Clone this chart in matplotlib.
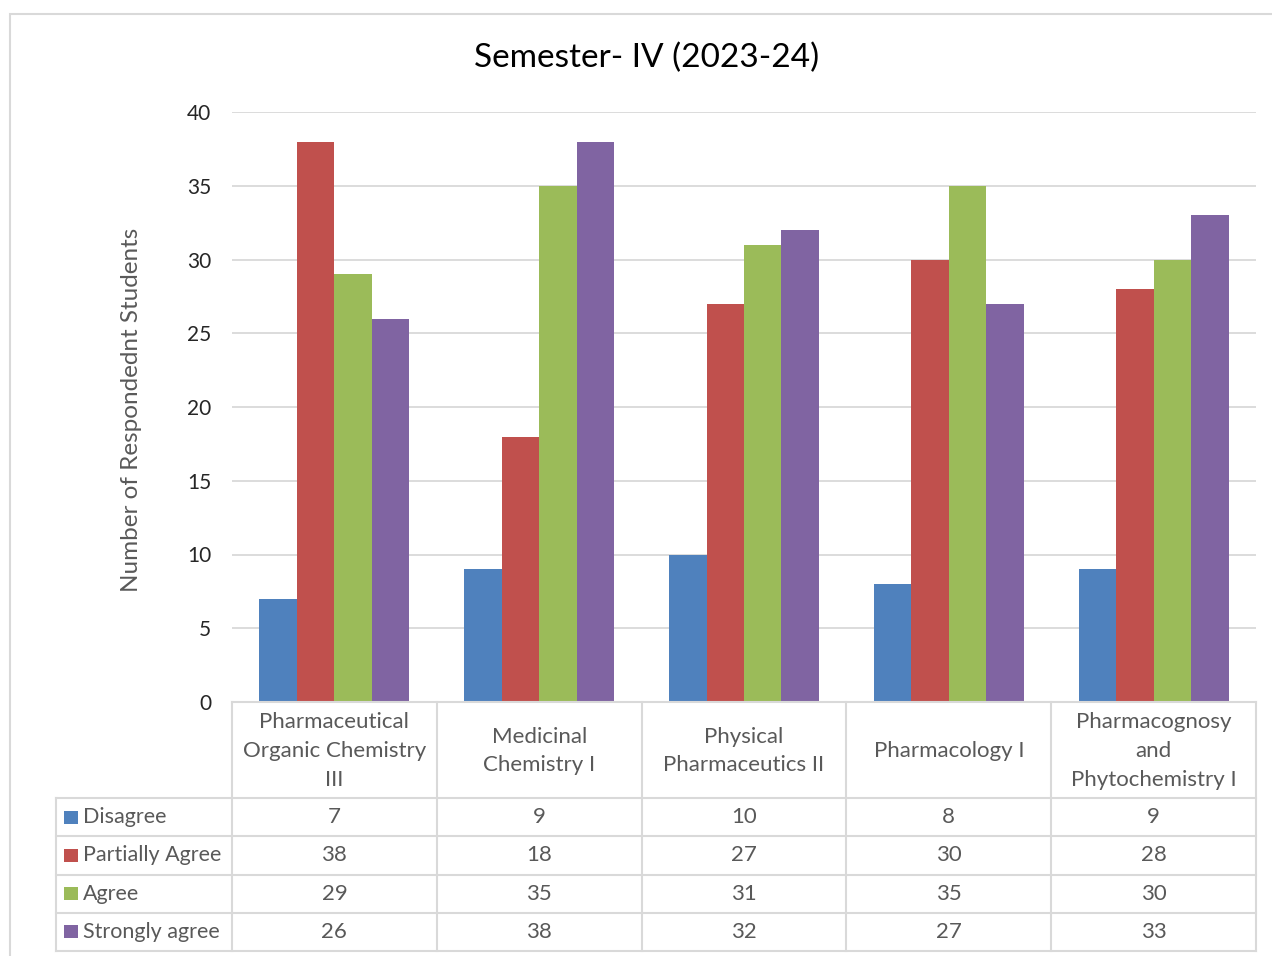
import matplotlib
matplotlib.use("Agg")
import matplotlib.pyplot as plt
from matplotlib.patches import Rectangle
import numpy as np

plt.rcParams['font.family'] = ['Lato', 'DejaVu Sans']

categories = ["Pharmaceutical\nOrganic Chemistry\nIII", "Medicinal\nChemistry I",
              "Physical\nPharmaceutics II", "Pharmacology I",
              "Pharmacognosy\nand\nPhytochemistry I"]
series_names = ["Disagree", "Partially Agree", "Agree", "Strongly agree"]
disagree = [7, 9, 10, 8, 9]
partially_agree = [38, 18, 27, 30, 28]
agree = [29, 35, 31, 35, 30]
strongly_agree = [26, 38, 32, 27, 33]
series = [disagree, partially_agree, agree, strongly_agree]
colors = ["#4F81BD", "#C0504D", "#9BBB59", "#8064A2"]
yticks = [0, 5, 10, 15, 20, 25, 30, 35, 40]

W, H = 1272, 956
fig = plt.figure(figsize=(W / 100, H / 100), dpi=100)

def fx(x): return x / W
def fy(y): return 1 - y / H

# outer chart border
fig.patches.append(Rectangle((fx(10), fy(1000)), fx(1400), fy(14) - fy(1000),
                             transform=fig.transFigure, fill=False,
                             edgecolor="#d9d9d9", linewidth=1.5))

grid_c = "#d9d9d9"
txt_c = "#595959"

ax = fig.add_axes([fx(232), fy(702), fx(1256) - fx(232), fy(112) - fy(702)])
n = len(categories)
x = np.arange(n)
bw = 0.183
for i, (vals, c) in enumerate(zip(series, colors)):
    ax.bar(x + (i - 1.5) * bw, vals, width=bw, color=c, zorder=3, label=series_names[i])
ax.set_xlim(-0.5, n - 0.5)
ax.set_ylim(0, 40)
ax.set_yticks(yticks)
ax.set_yticklabels([str(t) for t in yticks], fontsize=15, color="#262626")
ax.tick_params(axis='y', length=0, pad=15)
ax.set_xticks([])
ax.grid(axis='y', color=grid_c, linewidth=1.3, zorder=0)
for s in ax.spines.values():
    s.set_visible(False)
fig.text(fx(131), fy(410), "Number of Respondednt Students", fontsize=17.5,
         color=txt_c, rotation=90, ha='center', va='center')
fig.text(fx(647), fy(58), "Semester- IV (2023-24)",
         fontsize=24, ha='center', va='center', color="#000000")

# data table
label_w = 176 / 204.8
tab = fig.add_axes([fx(56), fy(951), fx(1256) - fx(56), fy(702) - fy(951)])
tab.set_xlim(-0.5 - label_w, n - 0.5)
tab.set_ylim(249, 0)
tab.axis('off')
hdr_h = 96
row_h = (249 - hdr_h) / 4
lw = 1.5
tab.plot([-0.5, n - 0.5], [0, 0], color=grid_c, lw=lw, clip_on=False)
for k in range(n + 1):
    tab.plot([k - 0.5, k - 0.5], [0, 249], color=grid_c, lw=lw, clip_on=False)
tab.plot([-0.5 - label_w, -0.5 - label_w], [hdr_h, 249], color=grid_c, lw=lw, clip_on=False)
for r in range(5):
    yy = hdr_h + r * row_h
    tab.plot([-0.5 - label_w, n - 0.5], [yy, yy], color=grid_c, lw=lw, clip_on=False)
for k, cat in enumerate(categories):
    tab.text(k, hdr_h / 2 + 1, cat, ha='center', va='center', fontsize=16,
             color=txt_c, linespacing=1.55)
for r, (name, vals, c) in enumerate(zip(series_names, series, colors)):
    yc = hdr_h + (r + 0.5) * row_h
    tab.add_patch(Rectangle((-0.5 - label_w + 0.04, yc - 6.5), 0.065, 13,
                            facecolor=c, edgecolor='none'))
    tab.text(-0.5 - label_w + 0.13, yc, name, ha='left', va='center',
             fontsize=15.5, color=txt_c)
    for k, v in enumerate(vals):
        tab.text(k, yc, str(v), ha='center', va='center', fontsize=16, color=txt_c)

fig.savefig("out.png", dpi=100)
